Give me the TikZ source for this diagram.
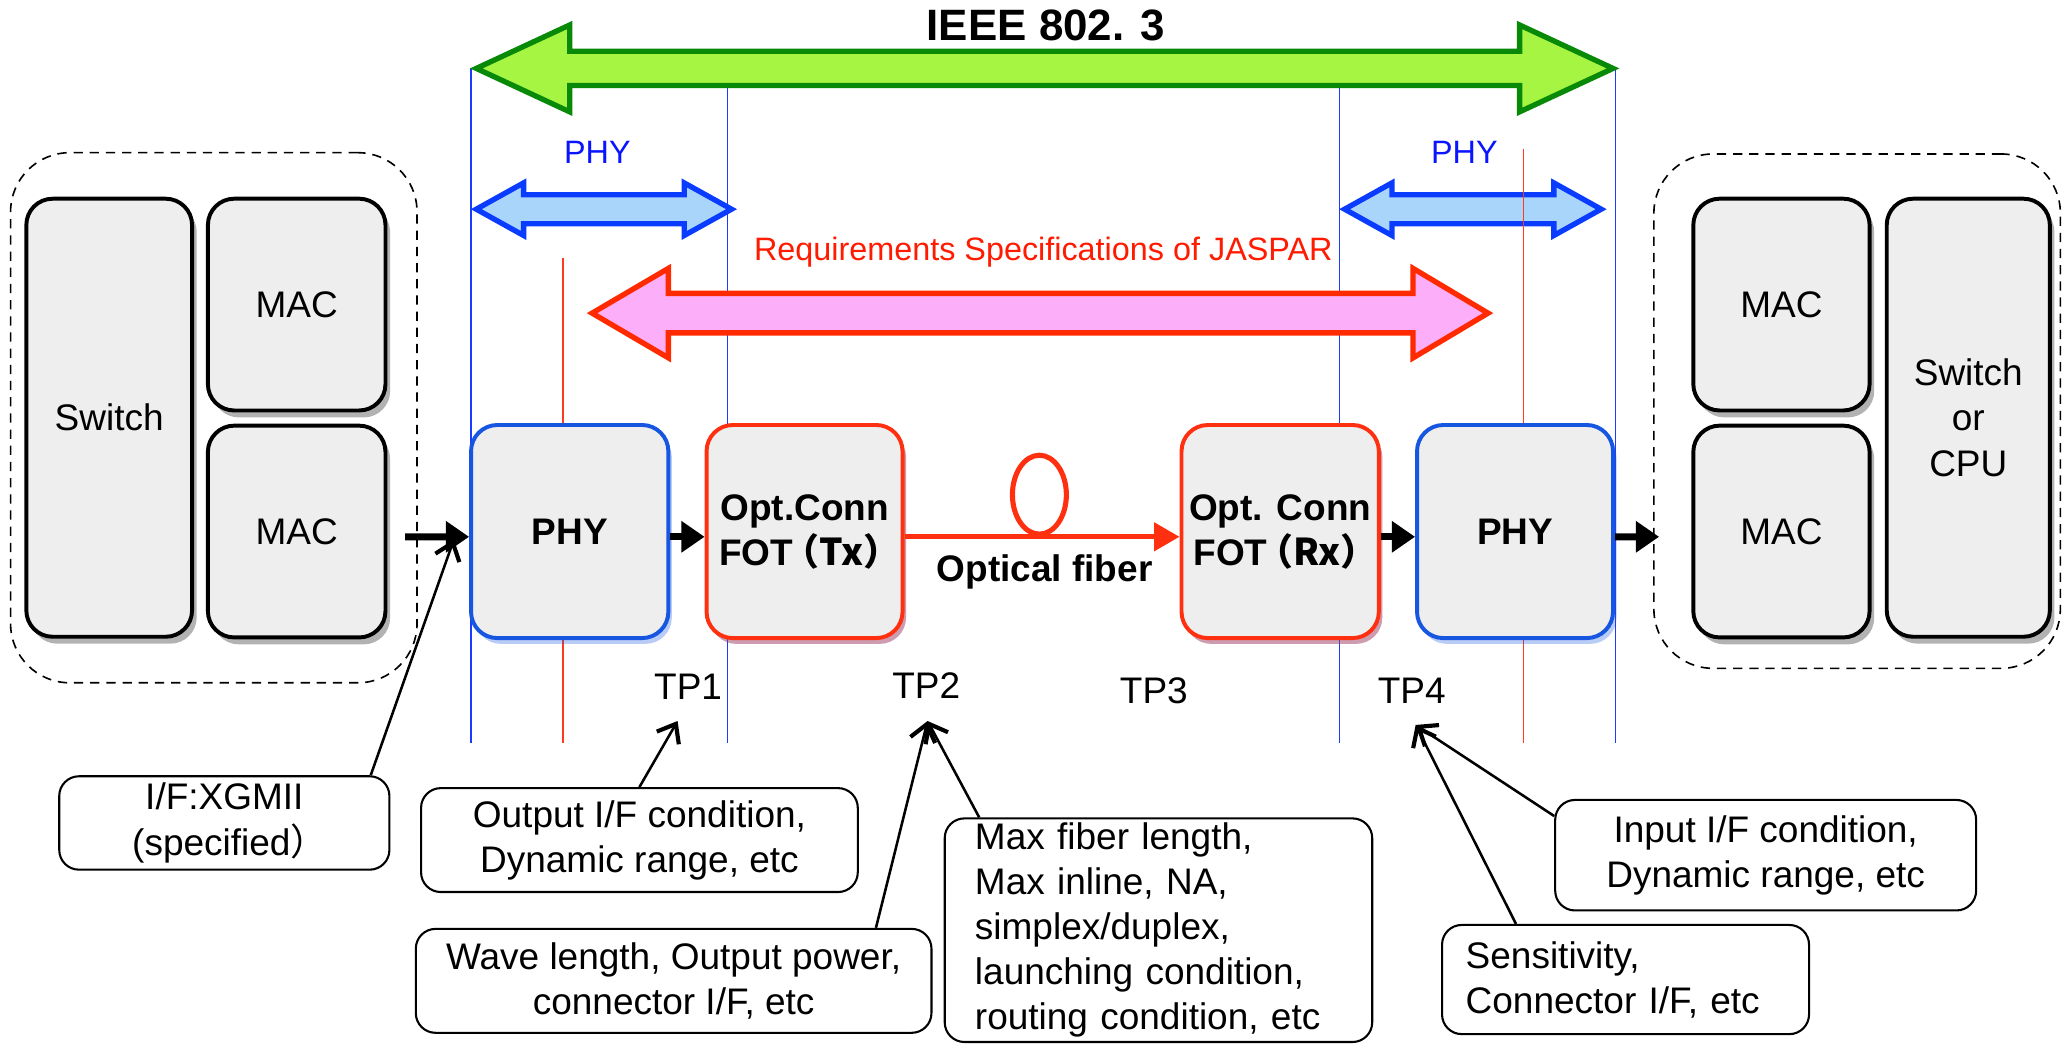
\documentclass[tikz,border=0pt]{standalone}
\usepackage{fontspec}
\setmainfont{Liberation Sans}
\newfontfamily\cjk{Noto Sans CJK JP}
\usepackage{tikz}
\usetikzlibrary{positioning,shapes.geometric,arrows.meta,shadows}
\usepackage{xcolor}

\definecolor{ieeefill}{HTML}{A6F542}
\definecolor{ieeedraw}{HTML}{088A08}
\definecolor{phyfill}{HTML}{AAD5FB}
\definecolor{phydraw}{HTML}{0A3CFF}
\definecolor{jasfill}{HTML}{FCAEF8}
\definecolor{jasdraw}{HTML}{FF2A00}
\definecolor{boxgray}{HTML}{EEEEEE}
\definecolor{phyedge}{HTML}{1656E0}
\definecolor{optedge}{HTML}{FF3010}
\definecolor{guideblue}{HTML}{1A3CFF}
\definecolor{guidered}{HTML}{FF3A20}
\definecolor{labblue}{HTML}{0A14FF}
\definecolor{labred}{HTML}{FF1A00}

% full-width brackets
\newcommand{\fwlp}{\kern-0.3em\cjk{（}}
\newcommand{\fwrp}{\cjk{）}\kern-0.3em}

\begin{document}
\begin{tikzpicture}[
    x=0.02cm, y=-0.02cm,
    font=\fontsize{16}{19.5}\selectfont,
    block/.style={draw, rounded corners=0.4cm, fill=boxgray, line width=1.7pt,
        align=center, inner sep=0pt},
    macbox/.style={block, draw=black, minimum width=2.7cm, minimum height=3.22cm,
        drop shadow={shadow xshift=2pt, shadow yshift=-3pt, fill=black, opacity=0.3}},
    phybox/.style={block, draw=phyedge, minimum width=3cm, minimum height=3.24cm,
        font=\fontsize{16}{19.5}\selectfont\bfseries,
        drop shadow={shadow xshift=1.5pt, shadow yshift=-2.5pt, fill=phyedge, opacity=0.3}},
    optbox/.style={phybox, draw=optedge,
        drop shadow={shadow xshift=1.5pt, shadow yshift=-2.5pt, fill=optedge, opacity=0.3}},
    group/.style={draw, dash pattern=on 4pt off 3pt, rounded corners=0.9cm, line width=0.7pt,
        inner sep=0pt},
    callout/.style={draw, rounded corners=0.3cm, fill=white, line width=0.9pt,
        align=center, inner sep=0pt},
    guideb/.style={draw=guideblue, line width=0.6pt},
    guider/.style={draw=guidered, line width=0.6pt},
    feed/.style={-{Triangle[length=10pt,width=13pt]}, line width=3pt},
    fiber/.style={-{Triangle[length=11pt,width=12pt]}, draw=optedge, fill=optedge, line width=2.2pt},
    tip/.style={-{Straight Barb[length=7pt,width=11pt,line width=1.8pt]}, line width=1.1pt},
    wide/.style={line width=2.3pt, line join=miter}
]
    \useasboundingbox (0,0) rectangle (1568,794);

    % guide lines of the specification ranges
    \draw[guideb] (358,52) -- (358,565);
    \draw[guideb] (553,67) -- (553,565);
    \draw[guideb] (1018,67) -- (1018,565);
    \draw[guideb] (1228,52) -- (1228,565);

    % IEEE 802.3 range
    \draw[wide, draw=ieeedraw, fill=ieeefill] (362,52) -- (433,19) -- (433,39) -- (1155,39)
        -- (1155,19) -- (1226,52) -- (1155,85) -- (1155,65) -- (433,65) -- (433,85) -- cycle;
    \node[font=\fontsize{19}{22}\selectfont\bfseries] (ieee) at (795,19) {IEEE 802. 3};

    % PHY ranges
    \draw[wide, draw=phydraw, fill=phyfill] (362,159) -- (398,139) -- (398,148) -- (520,148)
        -- (520,139) -- (556,159) -- (520,179) -- (520,170) -- (398,170) -- (398,179) -- cycle;
    \draw[wide, draw=phydraw, fill=phyfill] (1022,159) -- (1058,139) -- (1058,148) -- (1181,148)
        -- (1181,139) -- (1217,159) -- (1181,179) -- (1181,170) -- (1058,170) -- (1058,179) -- cycle;
    \node[text=labblue, font=\fontsize{14}{17}\selectfont] (phyL-lab) at (454,116) {PHY};
    \node[text=labblue, font=\fontsize{14}{17}\selectfont] (phyR-lab) at (1113,116) {PHY};

    % JASPAR range
    \draw[wide, draw=jasdraw, fill=jasfill] (450,238) -- (508,204) -- (508,223) -- (1074,223)
        -- (1074,204) -- (1131,238) -- (1074,272) -- (1074,253) -- (508,253) -- (508,272) -- cycle;
    \node[text=labred, font=\fontsize{14}{17}\selectfont] (jaspar) at (793,192)
        {Requirements Specifications of JASPAR};

    \draw[guider] (428,196) -- (428,565);
    \draw[guider] (1158,113) -- (1158,565);

    % ECU groups
    \node[group, minimum width=6.18cm, minimum height=8.06cm] (grpL) at (162.5,317.5) {};
    \node[group, minimum width=6.18cm, minimum height=7.82cm] (grpR) at (1411.5,312.5) {};

    \node[macbox, minimum width=2.52cm, minimum height=6.66cm] (swL) at (83,317.5) {Switch};
    \node[macbox] (macL1) at (225.5,231.5) {MAC};
    \node[macbox] (macL2) at (225.5,404) {MAC};
    \node[macbox, minimum width=2.68cm] (macR1) at (1354,231.5) {MAC};
    \node[macbox, minimum width=2.68cm] (macR2) at (1354,404) {MAC};
    \node[macbox, minimum width=2.48cm, minimum height=6.66cm] (swR) at (1496,317.5) {Switch\\or\\CPU};

    % optical link
    \node[phybox] (phyL) at (433,404) {PHY};
    \node[optbox, minimum width=2.98cm] (txo) at (611.5,404) {Opt.Conn\\FOT\fwlp Tx\fwrp};
    \node[optbox] (rxo) at (973,404) {Opt. Conn\\FOT\fwlp Rx\fwrp};
    \node[phybox, minimum width=2.98cm] (phyR) at (1151.5,404) {PHY};
    \node[draw=optedge, line width=2.2pt, ellipse, minimum width=0.82cm, minimum height=1.2cm,
        inner sep=0pt] (loop) at (790,376) {};
    \node[font=\fontsize{16}{19.5}\selectfont\bfseries] (fiblab) at (794,435) {Optical fiber};

    \coordinate (inL) at (308,408);
    \coordinate (outR) at (1261,408);
    \draw[feed] (inL) -- ([yshift=-0.08cm]phyL.west);
    \draw[feed] ([yshift=-0.08cm]phyL.east) -- ([yshift=-0.08cm]txo.west);
    \draw[fiber] ([yshift=-0.08cm]txo.east) -- ([yshift=-0.08cm]rxo.west);
    \draw[feed] ([yshift=-0.08cm]rxo.east) -- ([yshift=-0.08cm]phyR.west);
    \draw[feed] ([yshift=-0.08cm]phyR.east) -- (outR);

    % test points
    \node (tp1) at (523,522) {TP1};
    \node (tp2) at (704,521) {TP2};
    \node (tp3) at (877,525) {TP3};
    \node (tp4) at (1073,525) {TP4};
    \coordinate (xgmiitip) at (345,410);
    \coordinate (tp1tip) at (515,548);
    \coordinate (tp2tip) at (705,548);
    \coordinate (tp4tip) at (1076,551);

    % conditions
    \node[callout, minimum width=5.02cm, minimum height=1.42cm] (xgmii) at (170.5,625.5)
        {I/F:XGMII\\(specified\fwrp};
    \node[callout, minimum width=6.64cm, minimum height=1.58cm] (outif) at (486,638.5)
        {Output I/F condition,\\Dynamic range, etc};
    \node[callout, minimum width=7.84cm, minimum height=1.58cm] (wave) at (512,745.5)
        {Wave length, Output power,\\connector I/F, etc};
    \node[callout, align=left, text width=5.58cm, inner xsep=0.46cm, minimum height=3.4cm]
        (maxfib) at (880.5,707)
        {Max fiber length,\\Max inline, NA,\\simplex/duplex,\\launching condition,\\routing condition, etc};
    \node[callout, minimum width=6.4cm, minimum height=1.68cm] (inif) at (1342,650)
        {Input I/F condition,\\Dynamic range, etc};
    \node[callout, align=left, text width=4.86cm, inner xsep=0.36cm, minimum height=1.66cm]
        (sens) at (1235.5,744.5) {Sensitivity,\\Connector I/F, etc};

    \draw[tip] ([xshift=-0.3cm]xgmii.north east) -- (xgmiitip);
    \draw[tip] (outif.north) -- (tp1tip);
    \draw[tip] ([xshift=-0.86cm]wave.north east) -- (tp2tip);
    \draw[tip] ([xshift=0.54cm]maxfib.north west) -- (tp2tip);
    \draw[tip] ([yshift=-0.26cm]inif.north west) -- (tp4tip);
    \draw[tip] ([xshift=1.14cm]sens.north west) -- (tp4tip);
\end{tikzpicture}
\end{document}
